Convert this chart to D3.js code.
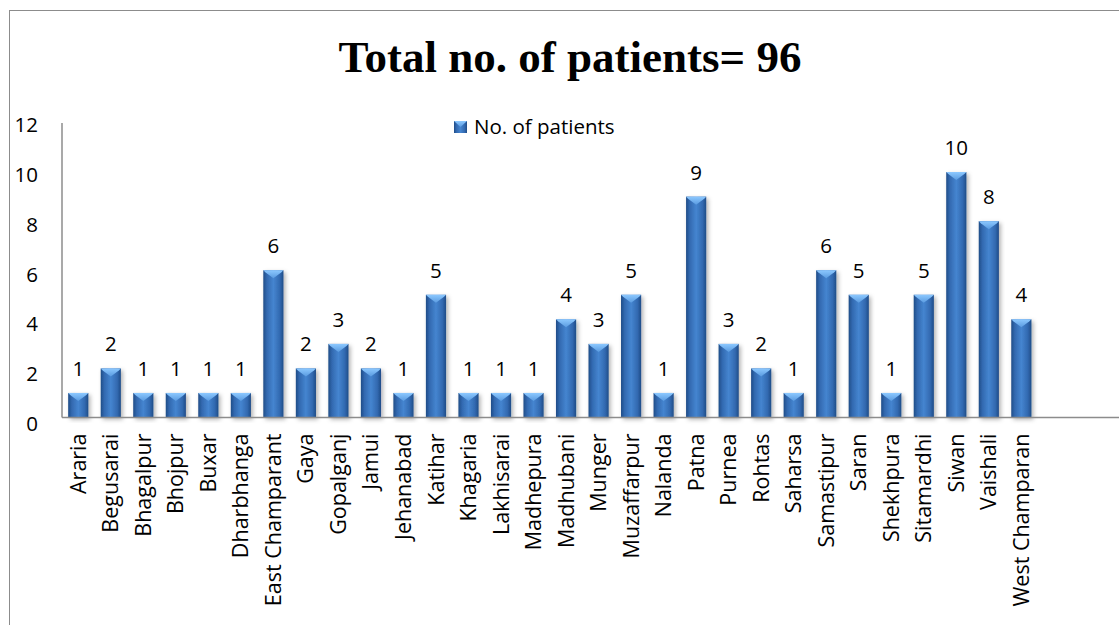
<!DOCTYPE html>
<html>
<head>
<meta charset="utf-8">
<script src="https://cdn.jsdelivr.net/npm/d3@7"></script>
<style>
  body { margin: 0; background: #fff; }
  text { font-family: "Open Sans", sans-serif; fill: #000; }
</style>
</head>
<body>
<script>
// data
var districts = ["Araria", "Begusarai", "Bhagalpur", "Bhojpur", "Buxar", "Dharbhanga",
  "East Champarant", "Gaya", "Gopalganj", "Jamui", "Jehanabad", "Katihar", "Khagaria",
  "Lakhisarai", "Madhepura", "Madhubani", "Munger", "Muzaffarpur", "Nalanda", "Patna",
  "Purnea", "Rohtas", "Saharsa", "Samastipur", "Saran", "Shekhpura", "Sitamardhi",
  "Siwan", "Vaishali", "West Champaran"];
var patients = [1, 2, 1, 1, 1, 1, 6, 2, 3, 2, 1, 5, 1, 1, 1, 4, 3, 5, 1, 9, 3, 2, 1, 6, 5, 1, 5, 10, 8, 4];
var yTicks = [0, 2, 4, 6, 8, 10, 12];
var seriesName = "No. of patients";
var titleText = "Total no. of patients= 96";

var svgWidth = 1119;
var svgHeight = 625;
var fontSize = "20.5px";

var svg = d3.select("body")
  .append("svg")
  .attr("width", svgWidth)
  .attr("height", svgHeight);

var defs = svg.append("defs");
var grad = defs.append("linearGradient").attr("id", "barGrad")
  .attr("x1", "0%").attr("x2", "100%").attr("y1", "0%").attr("y2", "0%");
grad.append("stop").attr("offset", "0%").attr("stop-color", "#1f4c87");
grad.append("stop").attr("offset", "18%").attr("stop-color", "#3269b0");
grad.append("stop").attr("offset", "50%").attr("stop-color", "#4585d0");
grad.append("stop").attr("offset", "82%").attr("stop-color", "#3269b0");
grad.append("stop").attr("offset", "100%").attr("stop-color", "#1f4c87");

var capGrad = defs.append("linearGradient").attr("id", "capGrad")
  .attr("x1", "0%").attr("x2", "0%").attr("y1", "0%").attr("y2", "100%");
capGrad.append("stop").attr("offset", "0%").attr("stop-color", "#8cc8ff");
capGrad.append("stop").attr("offset", "100%").attr("stop-color", "#5a9be0");

var shadow = defs.append("filter").attr("id", "shadow")
  .attr("x", "-30%").attr("y", "-10%").attr("width", "160%").attr("height", "130%");
shadow.append("feDropShadow").attr("dx", 2).attr("dy", 2).attr("stdDeviation", 2)
  .attr("flood-color", "#000").attr("flood-opacity", 0.3);

// outer border
svg.append("rect")
  .attr("x", 9.5).attr("y", 10.5)
  .attr("width", 1300).attr("height", 1000)
  .attr("fill", "none").attr("stroke", "#8c8c8c").attr("stroke-width", 1);

var x0 = 62, slot = 32.52, yBase = 417.5, yTop = 123;

var xScale = d3.scaleBand()
  .domain(districts)
  .range([x0, x0 + slot * districts.length])
  .paddingInner(0.38)
  .paddingOuter(0.19);

var yScale = d3.scaleLinear()
  .domain([0, 12])
  .range([yBase, yTop]);

// tick labels sit on a slightly taller spread than the axis
var yLabelScale = d3.scaleLinear()
  .domain([0, 12])
  .range([424, 125]);

// bars
var bars = svg.append("g").selectAll("g.bar")
  .data(districts)
  .enter().append("g")
  .attr("class", "bar");

bars.append("rect")
  .attr("x", d => xScale(d))
  .attr("y", (d, i) => yScale(patients[i]))
  .attr("width", xScale.bandwidth())
  .attr("height", (d, i) => yBase - yScale(patients[i]))
  .attr("fill", "url(#barGrad)")
  .attr("filter", "url(#shadow)");

// light bevel cap on top
bars.append("path")
  .attr("d", function(d, i) {
    var xl = xScale(d), w = xScale.bandwidth(), yt = yScale(patients[i]);
    return "M" + xl + "," + yt + "L" + (xl + w) + "," + yt +
      "L" + (xl + w - 2) + "," + (yt + 2) +
      "L" + (xl + w / 2) + "," + (yt + 8) +
      "L" + (xl + 2) + "," + (yt + 2) + "Z";
  })
  .attr("fill", "url(#capGrad)");

// value labels
bars.append("text")
  .attr("x", d => xScale(d) + xScale.bandwidth() / 2)
  .attr("y", (d, i) => yScale(patients[i]) - 17)
  .attr("text-anchor", "middle")
  .attr("font-size", fontSize)
  .text((d, i) => patients[i]);

// axes
var leftAxis = d3.axisLeft(yLabelScale).tickValues(yTicks).tickSize(0).tickPadding(24);
var yAxisG = svg.append("g")
  .attr("transform", "translate(" + x0 + ",0)")
  .call(leftAxis);
yAxisG.select(".domain").remove();
yAxisG.selectAll("text").attr("font-size", fontSize).attr("font-family", "'Open Sans', sans-serif");

svg.append("line")
  .attr("x1", x0).attr("x2", x0)
  .attr("y1", yTop).attr("y2", yBase)
  .attr("stroke", "#8c8c8c").attr("stroke-width", 1.5);

var bottomAxis = d3.axisBottom(xScale).tickSize(0).tickPadding(0);
var xAxisG = svg.append("g")
  .attr("transform", "translate(0," + yBase + ")")
  .call(bottomAxis);
xAxisG.select(".domain").remove();
xAxisG.selectAll("text")
  .attr("font-size", "21.5px")
  .attr("font-family", "'Open Sans', sans-serif")
  .attr("transform", "rotate(-90)")
  .attr("text-anchor", "end")
  .attr("x", -16)
  .attr("y", 0)
  .attr("dy", "0.35em");

svg.append("line")
  .attr("x1", x0).attr("x2", svgWidth)
  .attr("y1", yBase).attr("y2", yBase)
  .attr("stroke", "#8c8c8c").attr("stroke-width", 1.5);

// title
svg.append("text")
  .attr("x", 570)
  .attr("y", 72)
  .attr("text-anchor", "middle")
  .attr("font-weight", "bold")
  .attr("font-size", "45px")
  .style("font-family", "'Liberation Serif', serif")
  .text(titleText);

// legend
var legend = svg.append("g").attr("transform", "translate(454,121)");
legend.append("rect").attr("width", 13).attr("height", 12).attr("fill", "url(#barGrad)");
legend.append("path").attr("d", "M0,0L13,0L6.5,6Z").attr("fill", "url(#capGrad)");
legend.append("text").attr("x", 20).attr("y", 6).attr("dy", "0.35em")
  .attr("font-size", fontSize).text(seriesName);
</script>
</body>
</html>
